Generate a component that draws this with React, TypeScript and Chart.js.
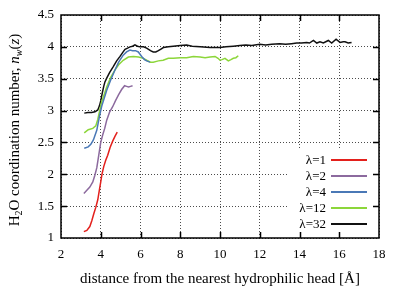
import React, { useEffect, useRef } from 'react';
import { Chart, registerables } from 'chart.js';

Chart.register(...registerables);

const seriesLabels = ['λ=1', 'λ=2', 'λ=4', 'λ=12', 'λ=32'];
const seriesColors = ['#e3201c', '#8c6a9e', '#4a78b6', '#8cd63a', '#111111'];

const lambda1X = [3.15, 3.3, 3.45, 3.55, 3.65, 3.75, 3.85, 3.93, 4.0, 4.06, 4.15, 4.25, 4.35, 4.47, 4.6, 4.72, 4.83];
const lambda1Y = [1.1, 1.12, 1.18, 1.27, 1.38, 1.48, 1.6, 1.75, 1.88, 2.0, 2.12, 2.22, 2.3, 2.42, 2.52, 2.6, 2.66];

const lambda2X = [3.15, 3.3, 3.45, 3.6, 3.7, 3.8, 3.9, 4.0, 4.1, 4.2, 4.3, 4.45, 4.6, 4.75, 4.9, 5.05, 5.2, 5.3, 5.4, 5.5, 5.6];
const lambda2Y = [1.7, 1.75, 1.8, 1.88, 1.98, 2.1, 2.3, 2.5, 2.62, 2.72, 2.85, 2.98, 3.06, 3.16, 3.25, 3.33, 3.39, 3.38, 3.37, 3.38, 3.39];

const lambda4X = [3.17, 3.37, 3.5, 3.63, 3.8, 3.93, 4.05, 4.3, 4.5, 4.72, 4.9, 5.13, 5.3, 5.47, 5.6, 5.75, 5.89, 6.06, 6.2, 6.31, 6.48];
const lambda4Y = [2.41, 2.43, 2.47, 2.54, 2.69, 2.9, 3.07, 3.32, 3.48, 3.64, 3.76, 3.87, 3.92, 3.95, 3.94, 3.94, 3.92, 3.85, 3.8, 3.78, 3.76];

const lambda12X = [3.17, 3.37, 3.6, 3.75, 3.85, 3.96, 4.05, 4.3, 4.5, 4.72, 4.9, 5.13, 5.39, 5.64, 5.9, 6.14, 6.31, 6.5, 6.64, 6.9, 7.14, 7.4, 7.65, 8.0, 8.32, 8.66, 9.0, 9.25, 9.5, 9.75, 9.9, 10.0, 10.1, 10.25, 10.42, 10.55, 10.67, 10.8, 10.92];
const lambda12Y = [2.65, 2.7, 2.72, 2.76, 2.86, 3.02, 3.14, 3.37, 3.52, 3.64, 3.72, 3.79, 3.84, 3.85, 3.84, 3.82, 3.79, 3.76, 3.76, 3.78, 3.79, 3.82, 3.82, 3.83, 3.83, 3.85, 3.84, 3.83, 3.84, 3.85, 3.82, 3.79, 3.8, 3.82, 3.78, 3.8, 3.82, 3.83, 3.86];

const lambda32X = [3.17, 3.35, 3.54, 3.71, 3.85, 3.93, 4.0, 4.08, 4.15, 4.21, 4.3, 4.45, 4.63, 4.8, 4.97, 5.1, 5.22, 5.35, 5.47, 5.6, 5.72, 5.85, 5.97, 6.15, 6.31, 6.5, 6.64, 6.77, 6.9, 7.05, 7.15, 7.4, 7.65, 8.0, 8.32, 8.6, 9.0, 9.5, 10.0, 10.3, 10.67, 11.0, 11.3, 11.6, 12.0, 12.3, 12.6, 13.0, 13.3, 13.6, 13.86, 14.1, 14.36, 14.5, 14.7, 14.87, 15.03, 15.2, 15.45, 15.62, 15.84, 16.04, 16.2, 16.29, 16.45, 16.62];
const lambda32Y = [2.96, 2.97, 2.97, 2.98, 3.01, 3.07, 3.15, 3.28, 3.38, 3.45, 3.51, 3.6, 3.69, 3.78, 3.85, 3.91, 3.96, 3.98, 4.0, 4.01, 4.03, 4.01, 4.0, 4.0, 3.98, 3.94, 3.92, 3.92, 3.94, 3.97, 3.99, 4.0, 4.01, 4.02, 4.03, 4.01, 4.0, 3.99, 3.99, 4.0, 4.01, 4.02, 4.03, 4.02, 4.04, 4.03, 4.04, 4.05, 4.04, 4.05, 4.06, 4.06, 4.07, 4.06, 4.1, 4.06, 4.08, 4.06, 4.1, 4.06, 4.12, 4.07, 4.08, 4.08, 4.06, 4.07];

const seriesX = [lambda1X, lambda2X, lambda4X, lambda12X, lambda32X];
const seriesY = [lambda1Y, lambda2Y, lambda4Y, lambda12Y, lambda32Y];

const xTicks = [2, 4, 6, 8, 10, 12, 14, 16, 18];
const yTicks = [1, 1.5, 2, 2.5, 3, 3.5, 4, 4.5];
const xTitle = 'distance from the nearest hydrophilic head [Å]';

const SERIF = '"Liberation Serif", "Times New Roman", serif';

const framePlugin = {
  id: 'frame',
  afterDraw(chart: any) {
    const { ctx, chartArea: a, scales } = chart;
    const xs = scales.x;
    const ys = scales.y;
    ctx.save();
    ctx.setLineDash([]);

    // legend box
    const boxL = a.right - 92;
    const boxT = a.bottom - 88;
    ctx.fillStyle = '#ffffff';
    ctx.fillRect(boxL, boxT, a.right - boxL, a.bottom - boxT);
    ctx.font = `13px ${SERIF}`;
    ctx.textAlign = 'right';
    ctx.textBaseline = 'middle';
    chart.data.datasets.forEach((ds: any, i: number) => {
      const cy = a.bottom - 78 + i * 16;
      ctx.fillStyle = '#000';
      ctx.fillText(ds.label, a.right - 53, cy + 1);
      ctx.strokeStyle = ds.borderColor;
      ctx.lineWidth = 2;
      ctx.beginPath();
      ctx.moveTo(a.right - 48, cy);
      ctx.lineTo(a.right - 12, cy);
      ctx.stroke();
    });

    // frame
    ctx.strokeStyle = '#000';
    ctx.lineWidth = 1.5;
    ctx.strokeRect(a.left, a.top, a.right - a.left, a.bottom - a.top);

    // inward ticks
    const tl = 6;
    ctx.lineWidth = 1.5;
    ctx.beginPath();
    xTicks.slice(1, -1).forEach((v) => {
      const px = Math.round(xs.getPixelForValue(v)) + 0.5;
      ctx.moveTo(px, a.bottom);
      ctx.lineTo(px, a.bottom - tl);
      ctx.moveTo(px, a.top);
      ctx.lineTo(px, a.top + tl);
    });
    yTicks.slice(1, -1).forEach((v) => {
      const py = Math.round(ys.getPixelForValue(v)) + 0.5;
      ctx.moveTo(a.left, py);
      ctx.lineTo(a.left + tl, py);
      ctx.moveTo(a.right, py);
      ctx.lineTo(a.right - tl, py);
    });
    ctx.stroke();

    // x title
    ctx.fillStyle = '#000';
    ctx.font = `15px ${SERIF}`;
    ctx.textAlign = 'center';
    ctx.textBaseline = 'alphabetic';
    ctx.fillText(xTitle, (a.left + a.right) / 2, 283);

    // y title with sub/italic parts
    const parts: { t: string; f: string; dy: number }[] = [
      { t: 'H', f: `15px ${SERIF}`, dy: 0 },
      { t: '2', f: `10px ${SERIF}`, dy: 3 },
      { t: 'O coordination number, ', f: `15px ${SERIF}`, dy: 0 },
      { t: 'n', f: `italic 15px ${SERIF}`, dy: 0 },
      { t: 'w', f: `italic 10px ${SERIF}`, dy: 3 },
      { t: '(', f: `15px ${SERIF}`, dy: 0 },
      { t: 'z', f: `italic 15px ${SERIF}`, dy: 0 },
      { t: ')', f: `15px ${SERIF}`, dy: 0 },
    ];
    let total = 0;
    parts.forEach((p) => {
      ctx.font = p.f;
      total += ctx.measureText(p.t).width;
    });
    ctx.translate(19, 130);
    ctx.rotate(-Math.PI / 2);
    ctx.textAlign = 'left';
    let cx = -total / 2;
    parts.forEach((p) => {
      ctx.font = p.f;
      ctx.fillText(p.t, cx, p.dy);
      cx += ctx.measureText(p.t).width;
    });
    ctx.restore();
  },
};

export default function App() {
  const ref = useRef<HTMLCanvasElement | null>(null);
  useEffect(() => {
    if (!ref.current) return;
    const chart = new Chart(ref.current, {
      type: 'line',
      data: {
        datasets: seriesLabels.map((label, i) => ({
          label,
          data: seriesX[i].map((x, j) => ({ x, y: seriesY[i][j] })),
          borderColor: seriesColors[i],
          backgroundColor: seriesColors[i],
          borderWidth: 1.5,
          pointRadius: 0,
          tension: 0,
          fill: false,
        })),
      },
      options: {
        animation: false,
        responsive: false,
        maintainAspectRatio: false,
        layout: { padding: { top: 15, right: 20, left: 0, bottom: 0 } },
        plugins: { legend: { display: false }, tooltip: { enabled: false } },
        scales: {
          x: {
            type: 'linear',
            min: 2,
            max: 18,
            afterFit: (s: any) => {
              s.height = 51;
            },
            afterBuildTicks: (s: any) => {
              s.ticks = xTicks.map((v) => ({ value: v }));
            },
            ticks: {
              padding: 9,
              color: '#000',
              font: { family: SERIF, size: 13 },
              callback: (v: any) => String(v),
              maxRotation: 0,
            },
            grid: { color: 'rgba(0,0,0,0.7)', drawTicks: false, lineWidth: 1 },
            border: { display: false, dash: [1, 2] },
          },
          y: {
            type: 'linear',
            min: 1,
            max: 4.5,
            afterFit: (s: any) => {
              s.width = 61;
            },
            afterBuildTicks: (s: any) => {
              s.ticks = yTicks.map((v) => ({ value: v }));
            },
            ticks: {
              padding: 7,
              color: '#000',
              font: { family: SERIF, size: 13 },
              callback: (v: any) => String(v),
            },
            grid: { color: 'rgba(0,0,0,0.7)', drawTicks: false, lineWidth: 1 },
            border: { display: false, dash: [1, 2] },
          },
        },
      },
      plugins: [framePlugin],
    });
    return () => chart.destroy();
  }, []);
  return (
    <div style={{ position: 'absolute', left: 0, top: 0, width: 399, height: 289, background: '#fff' }}>
      <canvas ref={ref} width={399} height={289} style={{ width: 399, height: 289 }} />
    </div>
  );
}
